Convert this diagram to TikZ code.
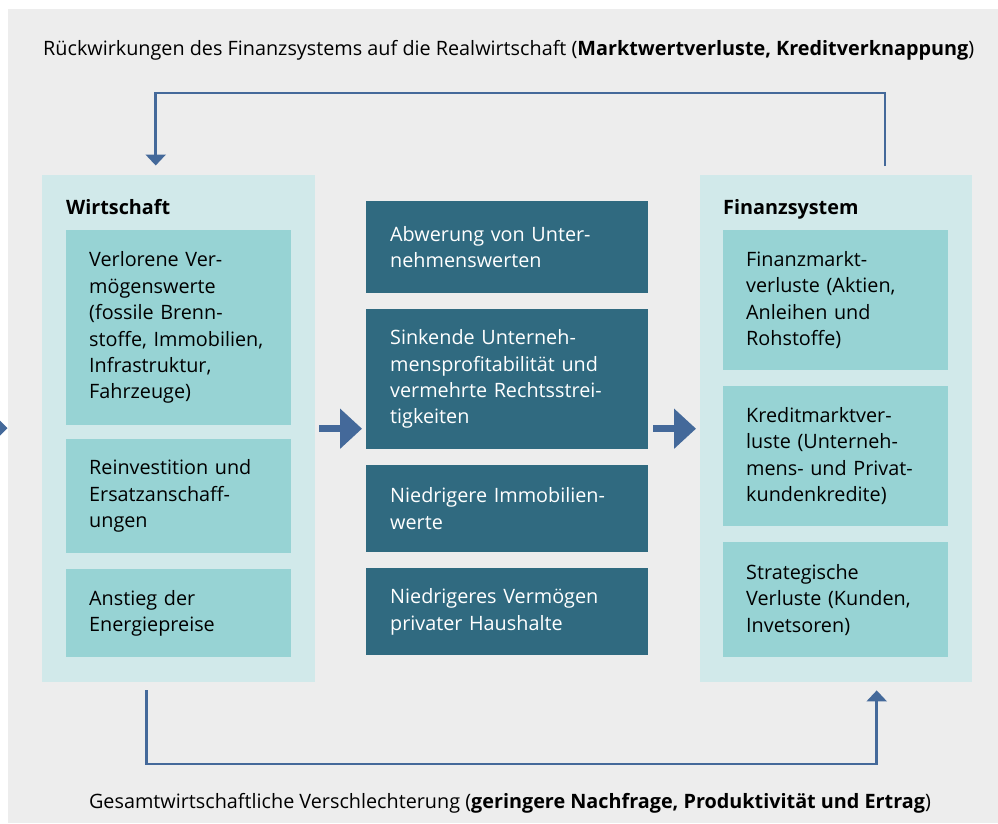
\documentclass[tikz,border=0pt]{standalone}
\usepackage{fontspec}
\setmainfont{Open Sans}
\usetikzlibrary{arrows.meta}
\definecolor{hgrau}{HTML}{EDEDED}
\definecolor{hellblau}{HTML}{D1E9EA}
\definecolor{tuerkis}{HTML}{97D3D4}
\definecolor{petrol}{HTML}{306A80}
\definecolor{stahlblau}{HTML}{44699A}
\begin{document}
\begin{tikzpicture}[x=1pt,y=-1pt,
	rahmen/.style={fill=hellblau,anchor=north west,inner sep=0pt,minimum width=273pt,minimum height=507pt},
	kasten/.style={fill=tuerkis,anchor=north west,align=left,inner xsep=23pt,inner ysep=0pt,text width=179pt,font=\fontsize{19.8}{26.4}\selectfont},
	dunkel/.style={fill=petrol,text=white,anchor=north west,align=left,inner xsep=24pt,inner ysep=0pt,text width=234pt,font=\fontsize{19.8}{26.4}\selectfont},
	titel/.style={anchor=base west,inner sep=0pt,font=\fontsize{19.8}{24}\selectfont\bfseries},
	pfeil/.style={draw=stahlblau,line width=2.5pt,-{Triangle[width=20pt,length=11pt]}},
	blockpfeil/.style={draw=stahlblau,line width=7pt,-{Triangle[width=39pt,length=22pt]}}]
	\useasboundingbox (0,0) rectangle (998,823);
	\fill [hgrau] (8,9) rectangle (998,823);
	\fill [stahlblau] (0,420.5) -- (7.5,428) -- (0,435.5) -- cycle;
	%Wirtschaft%
	\node [rahmen] (wirt) at (42,175) {};
	\node [titel] (wirttitel) at (66,214) {Wirtschaft};
	\node [kasten,minimum height=195pt] (verm) at (66,230) {Verlorene Ver-\\mögenswerte\\(fossile Brenn-\\stoffe, Immobilien,\\Infrastruktur,\\Fahrzeuge)};
	\node [kasten,minimum height=114pt] (reinv) at (66,439) {Reinvestition und\\Ersatzanschaff-\\ungen};
	\node [kasten,minimum height=88pt] (energie) at (66,569) {Anstieg der\\Energiepreise};
	%Mitte%
	\node [dunkel,minimum height=92pt] (abw) at (366,201) {Abwerung von Unter-\\nehmenswerten};
	\node [dunkel,minimum height=140pt] (profit) at (366,309) {Sinkende Unterneh-\\mensprofitabilität und\\vermehrte Rechtsstrei-\\tigkeiten};
	\node [dunkel,minimum height=87pt] (immo) at (366,465) {Niedrigere Immobilien-\\werte};
	\node [dunkel,minimum height=87pt] (haush) at (366,568) {Niedrigeres Vermögen\\privater Haushalte};
	%Finanzsystem%
	\node [rahmen,minimum width=272pt] (fin) at (700,175) {};
	\node [titel] (fintitel) at (723,214) {Finanzsystem};
	\node [kasten,minimum height=140pt] (finmarkt) at (723,230) {Finanzmarkt-\\verluste (Aktien,\\Anleihen und\\Rohstoffe)};
	\node [kasten,minimum height=140pt] (kredmarkt) at (723,386) {Kreditmarktver-\\luste (Unterneh-\\mens- und Privat-\\kundenkredite)};
	\node [kasten,minimum height=115pt] (strat) at (723,542) {Strategische\\Verluste (Kunden,\\Invetsoren)};
	%Pfeile%
	\draw [blockpfeil,shorten <=4pt,shorten >=4pt] (wirt.east) -- (wirt.east -| profit.west);
	\draw [blockpfeil,shorten <=5pt,shorten >=4pt] (profit.east |- fin.west) -- (fin.west);
	\coordinate (oben) at (0,93);
	\coordinate (unten) at (0,764);
	\coordinate (finoben) at ([xshift=49pt]fin.north);
	\coordinate (wirtoben) at ([xshift=-23pt]wirt.north);
	\coordinate (wirtunten) at ([xshift=-32pt]wirt.south);
	\coordinate (finunten) at ([xshift=40.5pt]fin.south);
	\draw [pfeil,shorten <=9pt,shorten >=9.5pt] (finoben) -- (finoben |- oben) -| (wirtoben);
	\draw [pfeil,shorten <=8pt,shorten >=8pt] (wirtunten) -- (wirtunten |- unten) -| (finunten);
	\node [anchor=west,inner sep=0pt,font=\fontsize{19.8}{24}\selectfont] (rueck) at (43,50) {Rückwirkungen des Finanzsystems auf die Realwirtschaft (\textbf{Marktwertverluste, Kreditverknappung})};
	\node [inner sep=0pt,font=\fontsize{19.8}{24}\selectfont] (gesamt) at (510,803) {Gesamtwirtschaftliche Verschlechterung (\textbf{geringere Nachfrage, Produktivität und Ertrag})};
\end{tikzpicture}
\end{document}
